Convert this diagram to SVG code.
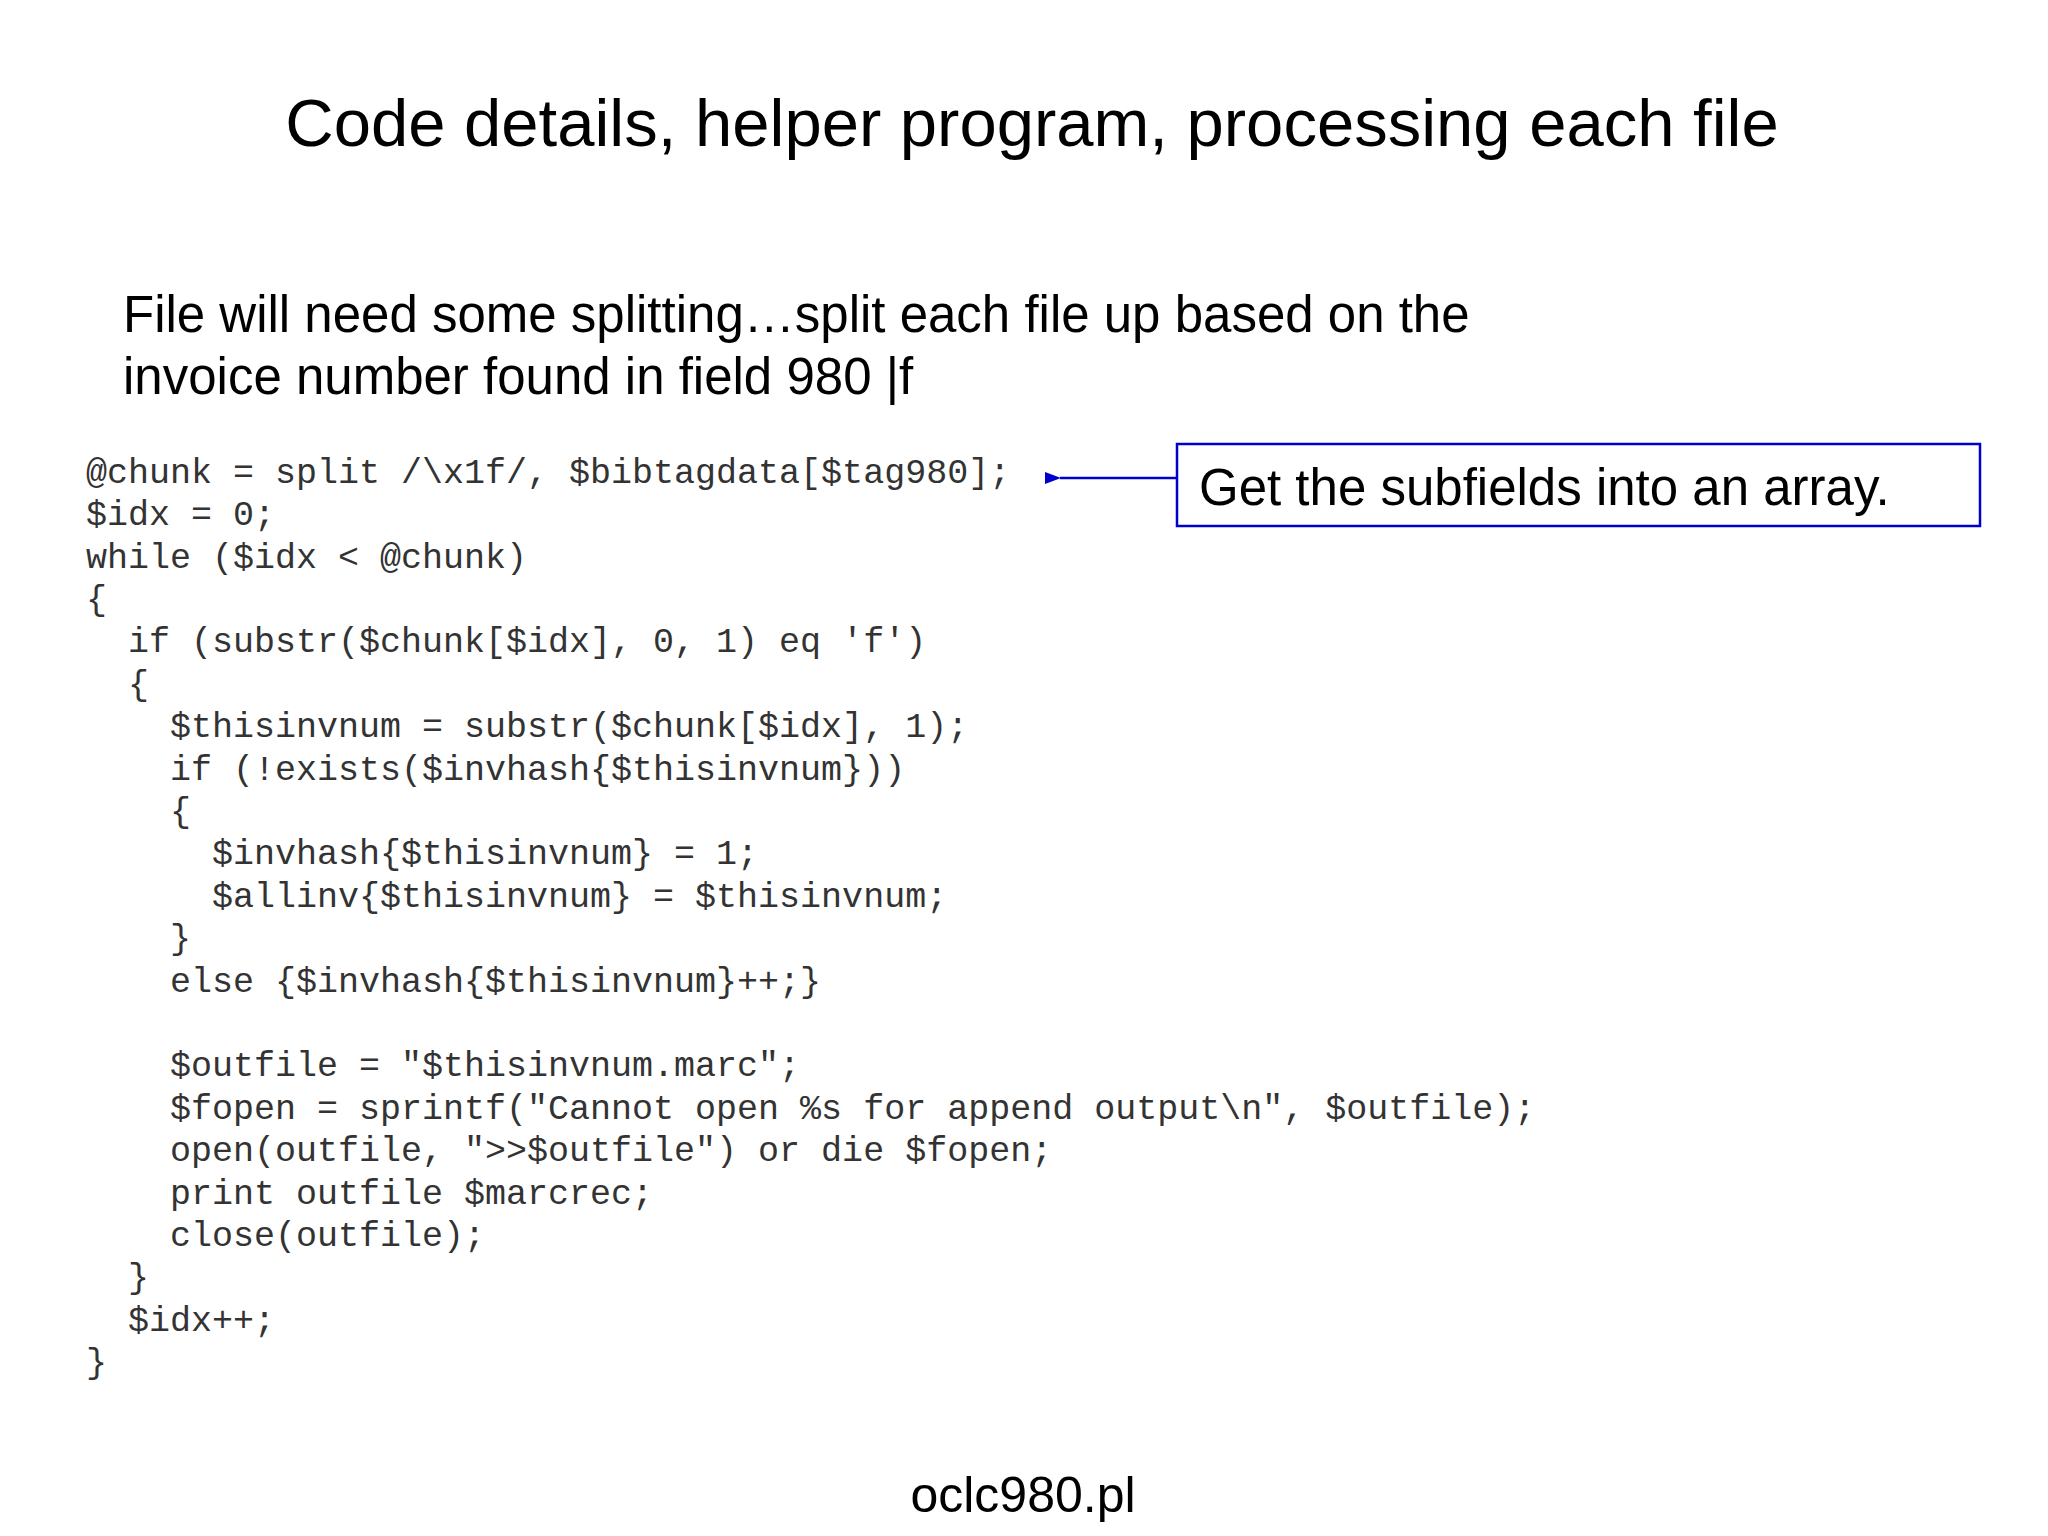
<svg xmlns="http://www.w3.org/2000/svg" width="2048" height="1536" viewBox="0 0 2048 1536">
<defs>
<style>
.t{font-family:"Liberation Sans",Arial,sans-serif;fill:#000}
.c{font-family:"Liberation Mono","Courier New",monospace;font-size:35px;fill:#333;white-space:pre}
</style>
<marker id="ah" markerWidth="16" markerHeight="12" refX="1" refY="6" orient="auto" markerUnits="userSpaceOnUse" viewBox="0 0 16 12"><path d="M16,0 L0,6 L16,12 z" fill="#0000cc"/></marker>
</defs>
<rect width="2048" height="1536" fill="#fff"/>
<text class="t" x="1032" y="146" font-size="67" text-anchor="middle">Code details, helper program, processing each file</text>
<text class="t" x="123" y="332" font-size="51">File will need some splitting…split each file up based on the</text>
<text class="t" x="123" y="394" font-size="51">invoice number found in field 980 |f</text>
<g id="code" class="c">
<text class="c" x="86" y="483">@chunk = split /\x1f/, $bibtagdata[$tag980];</text>
<text class="c" x="86" y="525">$idx = 0;</text>
<text class="c" x="86" y="568">while ($idx &lt; @chunk)</text>
<text class="c" x="86" y="610">{</text>
<text class="c" x="86" y="652">  if (substr($chunk[$idx], 0, 1) eq 'f')</text>
<text class="c" x="86" y="695">  {</text>
<text class="c" x="86" y="737">    $thisinvnum = substr($chunk[$idx], 1);</text>
<text class="c" x="86" y="780">    if (!exists($invhash{$thisinvnum}))</text>
<text class="c" x="86" y="822">    {</text>
<text class="c" x="86" y="864">      $invhash{$thisinvnum} = 1;</text>
<text class="c" x="86" y="907">      $allinv{$thisinvnum} = $thisinvnum;</text>
<text class="c" x="86" y="949">    }</text>
<text class="c" x="86" y="992">    else {$invhash{$thisinvnum}++;}</text>
<text class="c" x="86" y="1076">    $outfile = "$thisinvnum.marc";</text>
<text class="c" x="86" y="1119">    $fopen = sprintf("Cannot open %s for append output\n", $outfile);</text>
<text class="c" x="86" y="1161">    open(outfile, "&gt;&gt;$outfile") or die $fopen;</text>
<text class="c" x="86" y="1204">    print outfile $marcrec;</text>
<text class="c" x="86" y="1246">    close(outfile);</text>
<text class="c" x="86" y="1288">  }</text>
<text class="c" x="86" y="1331">  $idx++;</text>
<text class="c" x="86" y="1373">}</text>
</g>
<g id="callout">
<rect x="1177" y="444" width="803" height="82" fill="#fff" stroke="#0000cc" stroke-width="2.5"/>
<text class="t" x="1199" y="505" font-size="51">Get the subfields into an array.</text>
</g>
<g id="connectors">
<line x1="1177" y1="478" x2="1060" y2="478" stroke="#0000cc" stroke-width="2.5" marker-end="url(#ah)"/>
</g>
<text class="t" x="1023" y="1512" font-size="50" text-anchor="middle">oclc980.pl</text>
</svg>
